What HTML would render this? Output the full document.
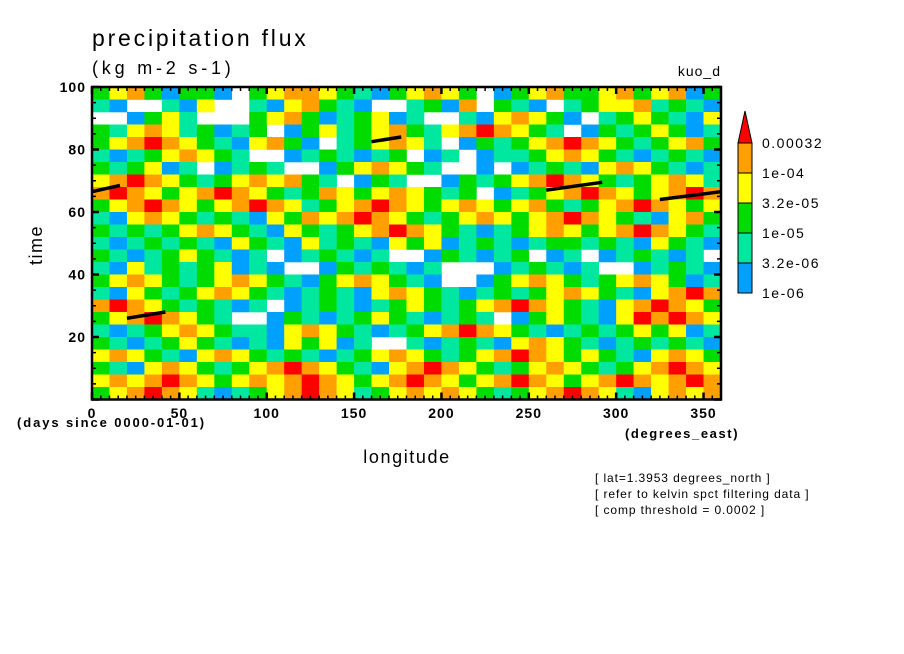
<!DOCTYPE html>
<html><head><meta charset="utf-8"><style>
html,body{margin:0;padding:0;background:#fff;}
svg{display:block;font-family:"Liberation Sans",sans-serif;}
</style></head><body>
<svg id="chart" width="904" height="654" viewBox="0 0 904 654" xmlns="http://www.w3.org/2000/svg">
<text x="92" y="46" font-size="23" letter-spacing="2.8">precipitation flux</text>
<text x="92" y="74" font-size="18" letter-spacing="3.8">(kg m-2 s-1)</text>
<text x="721" y="76" font-size="14" letter-spacing="1" text-anchor="end">kuo_d</text>
<g id="cells"></g>
<g id="marks"></g>
<g id="axes"></g>
<text x="42" y="245" font-size="18" letter-spacing="1.5" text-anchor="middle" transform="rotate(-90 42 245)">time</text>
<text x="407" y="463" font-size="18" letter-spacing="1.6" text-anchor="middle">longitude</text>
<text x="17" y="427" font-size="13" letter-spacing="1.9" font-weight="bold">(days since 0000-01-01)</text>
<text x="625" y="438" font-size="13" letter-spacing="1.6" font-weight="bold">(degrees_east)</text>
<text x="595" y="482" font-size="12" letter-spacing="0.9">[ lat=1.3953 degrees_north ]</text>
<text x="595" y="498" font-size="12" letter-spacing="0.9">[ refer to kelvin spct filtering data ]</text>
<text x="595" y="514" font-size="12" letter-spacing="0.9">[ comp threshold = 0.0002 ]</text>
<g id="legend"></g>
</svg>
<script>
const lonTicks=[0,50,100,150,200,250,300,350];
const timeTicks=[20,40,60,80,100];
const levelColors=["#ffffff","#00a0ff","#00e8a0","#00dc00","#ffff00","#ffa000","#ff0000"];
const legendLabels=["0.00032","1e-04","3.2e-05","1e-05","3.2e-06","1e-06"];
const rows=[
"345313310345543213454301345334534513",
"210021400214532100231503210234452321",
"001342000345312341200214543102343214",
"324542312301342345324565432013234312",
"345654321453102345420132345654323453",
"212345432001232123012012234543212321",
"323412012320013454320010123214543212",
"456543234545320132001323456543234542",
"565434565432354345432301234565434565",
"345654345654234565434543453234565434",
"214543232143545654323454345654321453",
"323234543214323456543212345434565432",
"212323214321423214341232123323214321",
"321234321201232120013212301201232120",
"214232341210013232120001232120012321",
"345432345432134543210013454323454312",
"214323454321232145432123234543214565",
"565432321201232123432345654321456543",
"345654320013212343212320134321465654",
"212345432214543212345654321232343412",
"321234321214341200212321454321232321",
"454321454323212345432345654343214543",
"321454323456543214565432345432345654",
"454565434545654345654345654345654565",
"345654212345654234545432345654214545"];
const segLon0=[0,160,260,325,20];
const segLon1=[16,177,292,360,42];
const segT0=[66.5,82.5,67,64,26];
const segT1=[68.5,84,69.5,66.5,28];
const X0=92,X1=721,Y0=399.5,Y1=87;
const xs=v=>X0+(v/360)*(X1-X0);
const ys=v=>Y0-(v/100)*(Y0-Y1);
const NS="http://www.w3.org/2000/svg";
function mk(t,a,p){const e=document.createElementNS(NS,t);for(const k in a)e.setAttribute(k,a[k]);p.appendChild(e);return e;}
const cells=document.getElementById('cells');
const nr=rows.length;
rows.forEach((r,i)=>{const nc=r.length;const tTop=100-i*100/nr,tBot=100-(i+1)*100/nr;
 for(let j=0;j<nc;j++){const lv=+r[j];if(lv===0)continue;
  const e=mk('rect',{x:xs(j*360/nc),y:ys(tTop),width:xs((j+1)*360/nc)-xs(j*360/nc)+0.3,height:ys(tBot)-ys(tTop)+0.3,fill:levelColors[lv]},cells);
  
  }});
const marks=document.getElementById('marks');
segLon0.forEach((l,i)=>{const e=mk('line',{x1:xs(l),y1:ys(segT0[i]),x2:xs(segLon1[i]),y2:ys(segT1[i]),stroke:'#000','stroke-width':3.5},marks);
 
 });
const ax=document.getElementById('axes');
mk('rect',{x:X0,y:Y1,width:X1-X0,height:Y0-Y1,fill:'none',stroke:'#000','stroke-width':2.5},ax);
for(let v=0;v<=360;v+=5){const maj=v%50===0;const L=maj?7:4;
 mk('line',{x1:xs(v),y1:Y0,x2:xs(v),y2:Y0-L,stroke:'#000','stroke-width':maj?2.5:1.5},ax);
 mk('line',{x1:xs(v),y1:Y1,x2:xs(v),y2:Y1+L,stroke:'#000','stroke-width':maj?2.5:1.5},ax);}
for(let v=0;v<=100;v+=5){const maj=v%20===0;const L=maj?7:4;
 mk('line',{x1:X0,y1:ys(v),x2:X0+L,y2:ys(v),stroke:'#000','stroke-width':maj?2.5:1.5},ax);
 mk('line',{x1:X1,y1:ys(v),x2:X1-L,y2:ys(v),stroke:'#000','stroke-width':maj?2.5:1.5},ax);}
lonTicks.forEach(v=>{const t=mk('text',{x:xs(v),y:418,'font-size':14,'font-weight':'bold','letter-spacing':1,'text-anchor':'middle'},ax);t.textContent=v;
 
 });
timeTicks.forEach(v=>{const t=mk('text',{x:86,y:ys(v)+5,'font-size':14,'font-weight':'bold','letter-spacing':1,'text-anchor':'end'},ax);t.textContent=v;
 
 });
const lg=document.getElementById('legend');
const bx=738,bw=14,bh=30,legTop=143;
mk('polygon',{points:`${bx},${legTop} ${bx+bw},${legTop} ${bx+bw/2},${legTop-32}`,fill:levelColors[6],stroke:'#000','stroke-width':1},lg);
for(let k=0;k<5;k++){const e=mk('rect',{x:bx,y:legTop+k*bh,width:bw,height:bh,fill:levelColors[5-k],stroke:'#000','stroke-width':1},lg);
 
 }
legendLabels.forEach((s,k)=>{const t=mk('text',{x:762,y:legTop+k*bh+5,'font-size':14,'letter-spacing':1.5},lg);t.textContent=s;
 
 });
</script>
</body></html>
